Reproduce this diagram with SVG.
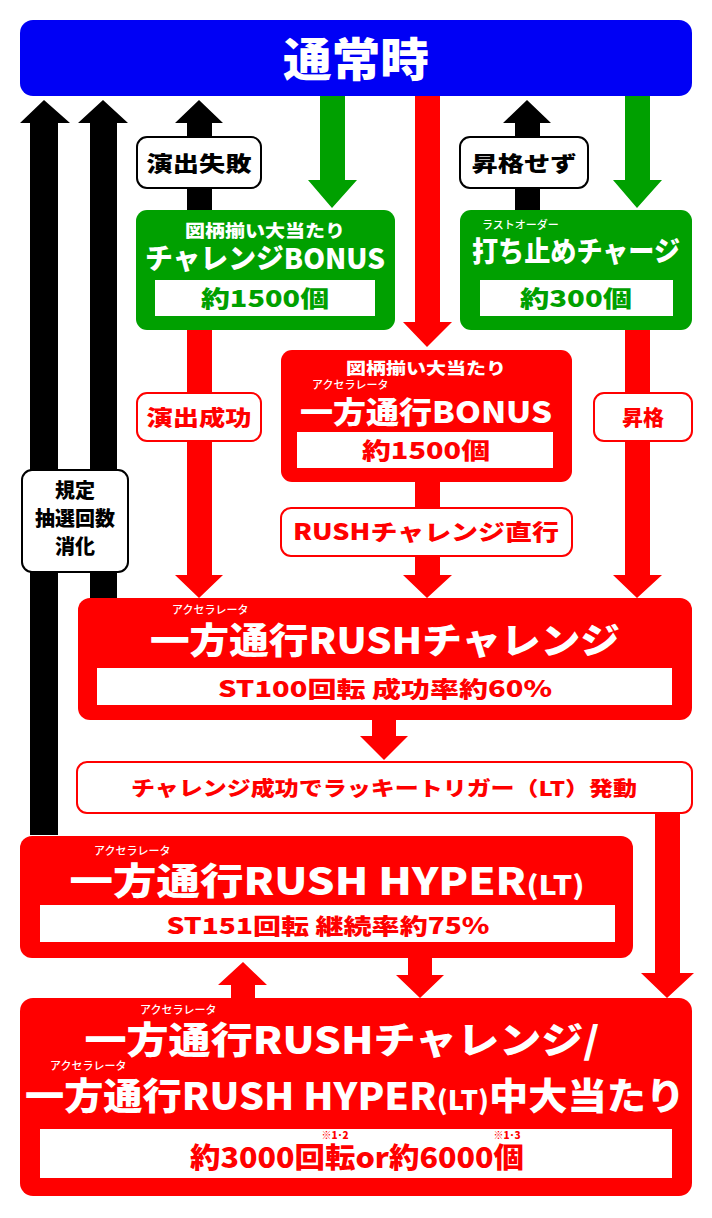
<svg xmlns="http://www.w3.org/2000/svg" width="712" height="1218" viewBox="0 0 712 1218">
<style>
text{font-family:"Noto Sans CJK JP","Noto Sans",sans-serif;font-weight:900;text-anchor:middle}
.w{fill:#fff}.r{fill:#f00}.g{fill:#00a000}.k{fill:#000}
.s{font-size:11px;font-weight:500;text-anchor:start}
.lb{fill:#fff;stroke-width:2}
</style>
<rect width="712" height="1218" fill="#fff"/>
<g id="connectors">
<path class="k" d="M30,835V123H20L44,100L70,123H58V835Z"/>
<path class="k" d="M90,600V123H78L103,100L128,123H117V600Z"/>
<path class="k" d="M187,210V123H175L199,100L223,123H212V210Z"/>
<path class="k" d="M515,210V123H503L527,100L551,123H540V210Z"/>
<path class="g" d="M320,96V180H308L332,208L357,180H345V96Z"/>
<path class="g" d="M625,96V180H613L637,208L662,180H650V96Z"/>
<path class="r" d="M415,96V322H403L427,347L452,322H440V96Z"/>
<path class="r" d="M187,330V575H175L199,598L223,575H212V330Z"/>
<path class="r" d="M415,482V575H403L427,598L452,575H440V482Z"/>
<path class="r" d="M625,330V575H613L637,598L662,575H650V330Z"/>
<path class="r" d="M372,720V736H360L384,760L408,736H396V720Z"/>
<path class="r" d="M655,813V973H641L667,998L694,973H680V813Z"/>
<path class="r" d="M231,1000V985H218L243,962L267,985H255V1000Z"/>
<path class="r" d="M408,958V975H396L420,998L444,975H432V958Z"/>
<rect class="lb" x="22" y="470" width="106" height="102" rx="10" stroke="#000"/>
<text class="k" font-size="20"><tspan x="75" y="498">規定</tspan><tspan x="75" y="526">抽選回数</tspan><tspan x="75" y="554">消化</tspan></text>
<rect class="lb" x="137" y="137" width="124" height="51" rx="10" stroke="#000"/>
<text class="k" x="199" y="171" font-size="21" textLength="105" lengthAdjust="spacingAndGlyphs">演出失敗</text>
<rect class="lb" x="460" y="137" width="128" height="51" rx="10" stroke="#000"/>
<text class="k" x="524" y="171" font-size="21" textLength="105" lengthAdjust="spacingAndGlyphs">昇格せず</text>
<rect class="lb" x="137" y="393" width="124" height="48" rx="10" stroke="#f00"/>
<text class="r" x="199" y="425" font-size="21" textLength="105" lengthAdjust="spacingAndGlyphs">演出成功</text>
<rect class="lb" x="594" y="393" width="98" height="48" rx="10" stroke="#f00"/>
<text class="r" x="643" y="425" font-size="21">昇格</text>
<rect class="lb" x="281" y="508" width="291" height="48" rx="10" stroke="#f00"/>
<text class="r" x="426" y="540" font-size="22" textLength="266" lengthAdjust="spacingAndGlyphs">RUSHチャレンジ直行</text>
<rect class="lb" x="77" y="762" width="615" height="51" rx="10" stroke="#f00"/>
<text class="r" x="384" y="796" font-size="20" textLength="506" lengthAdjust="spacingAndGlyphs">チャレンジ成功でラッキートリガー（LT）発動</text>
</g>
<g id="normal">
<rect x="20" y="20" width="672" height="76" rx="13" fill="#0000f5"/>
<text class="w" x="356" y="76" font-size="46" textLength="146" lengthAdjust="spacingAndGlyphs">通常時</text>
</g>
<g id="challenge-bonus">
<rect class="g" x="136" y="210" width="259" height="120" rx="11"/>
<text class="w" x="265" y="237" font-size="17" font-weight="500" textLength="160" lengthAdjust="spacingAndGlyphs">図柄揃い大当たり</text>
<text class="w" x="265" y="269" font-size="28" textLength="240" lengthAdjust="spacingAndGlyphs">チャレンジBONUS</text>
<rect class="w" x="155" y="280" width="220" height="36"/>
<text class="g" x="265" y="307" font-size="23" textLength="128" lengthAdjust="spacingAndGlyphs">約1500個</text>
</g>
<g id="charge">
<rect class="g" x="460" y="210" width="232" height="120" rx="11"/>
<text class="w s" x="482" y="229">ラストオーダー</text>
<text class="w" x="576" y="262" font-size="28" textLength="208" lengthAdjust="spacingAndGlyphs">打ち止めチャージ</text>
<rect class="w" x="480" y="280" width="193" height="36"/>
<text class="g" x="576" y="307" font-size="23" textLength="112" lengthAdjust="spacingAndGlyphs">約300個</text>
</g>
<g id="oneway-bonus">
<rect class="r" x="281" y="350" width="291" height="132" rx="11"/>
<text class="w" x="426" y="374" font-size="16" font-weight="500" textLength="160" lengthAdjust="spacingAndGlyphs">図柄揃い大当たり</text>
<text class="w s" x="312" y="389">アクセラレータ</text>
<text class="w" x="426" y="423" font-size="30" textLength="252" lengthAdjust="spacingAndGlyphs">一方通行BONUS</text>
<rect class="w" x="297" y="432" width="256" height="36"/>
<text class="r" x="426" y="459" font-size="23" textLength="128" lengthAdjust="spacingAndGlyphs">約1500個</text>
</g>
<g id="rush-challenge">
<rect class="r" x="78" y="598" width="614" height="122" rx="12"/>
<text class="w s" x="172" y="614">アクセラレータ</text>
<text class="w" x="385" y="654" font-size="36" textLength="470" lengthAdjust="spacingAndGlyphs">一方通行RUSHチャレンジ</text>
<rect class="w" x="97" y="668" width="575" height="37"/>
<text class="r" x="385" y="697" font-size="22" textLength="334" lengthAdjust="spacingAndGlyphs">ST100回転 成功率約60%</text>
</g>
<g id="rush-hyper">
<rect class="r" x="20" y="836" width="613" height="122" rx="12"/>
<text class="w s" x="94" y="855">アクセラレータ</text>
<text class="w" x="327" y="895" font-size="37" textLength="515" lengthAdjust="spacingAndGlyphs">一方通行RUSH HYPER<tspan font-size="26">(LT)</tspan></text>
<rect class="w" x="40" y="905" width="575" height="37"/>
<text class="r" x="328" y="934" font-size="22" textLength="323" lengthAdjust="spacingAndGlyphs">ST151回転 継続率約75%</text>
</g>
<g id="jackpot">
<rect class="r" x="20" y="998" width="672" height="198" rx="13"/>
<text class="w s" x="140" y="1014">アクセラレータ</text>
<text class="w" x="342" y="1054" font-size="37" textLength="515" lengthAdjust="spacingAndGlyphs">一方通行RUSHチャレンジ/</text>
<text class="w s" x="50" y="1070">アクセラレータ</text>
<text class="w" x="355" y="1110" font-size="37" textLength="660" lengthAdjust="spacingAndGlyphs">一方通行RUSH HYPER<tspan font-size="26">(LT)</tspan>中大当たり</text>
<rect class="w" x="40" y="1129" width="632" height="49"/>
<text class="r" x="357" y="1168" font-size="28" textLength="334" lengthAdjust="spacingAndGlyphs">約3000回転or約6000個</text>
<text class="r" x="335" y="1139" font-size="10" font-weight="500">※1･2</text>
<text class="r" x="507" y="1139" font-size="10" font-weight="500">※1･3</text>
</g>
</svg>
